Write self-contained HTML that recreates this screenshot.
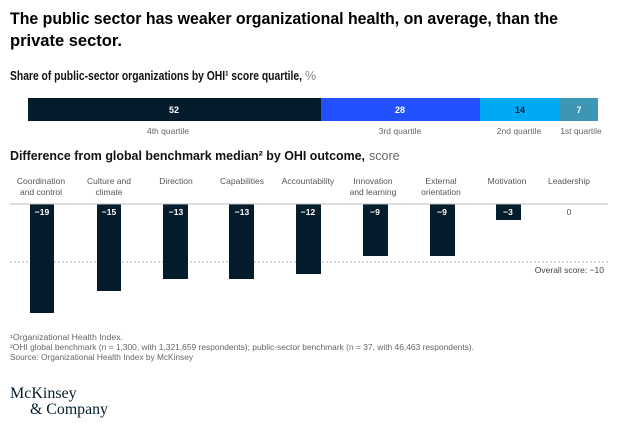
<!DOCTYPE html>
<html><head><meta charset="utf-8"><style>
html,body{margin:0;padding:0;background:#fff;}
svg{display:block;font-family:"Liberation Sans",sans-serif;}
</style></head><body>
<svg width="626" height="429" viewBox="0 0 626 429" xmlns="http://www.w3.org/2000/svg">
<g fill="#000" font-weight="bold" font-size="17">
<text x="10" y="24" textLength="548" lengthAdjust="spacingAndGlyphs">The public sector has weaker organizational health, on average, than the</text>
<text x="10" y="46" textLength="112" lengthAdjust="spacingAndGlyphs">private sector.</text>
</g>
<text x="10" y="80" font-size="12.5" font-weight="bold" fill="#111" textLength="292" lengthAdjust="spacingAndGlyphs">Share of public-sector organizations by OHI¹ score quartile,</text>
<text x="305" y="80" font-size="12.5" fill="#888">%</text>
<rect x="28" y="98" width="293" height="23" fill="#051c2c"/>
<rect x="321" y="98" width="159" height="23" fill="#2251ff"/>
<rect x="480" y="98" width="80" height="23" fill="#00a9f4"/>
<rect x="560" y="98" width="38" height="23" fill="#3c96b4"/>
<g font-size="9" font-weight="bold" text-anchor="middle">
<text x="174" y="113" fill="#fff">52</text>
<text x="400" y="113" fill="#fff">28</text>
<text x="520" y="113" fill="#051c2c">14</text>
<text x="579" y="113" fill="#fff">7</text>
</g>
<g font-size="8.5" fill="#666" text-anchor="middle">
<text x="168" y="134">4th quartile</text>
<text x="400" y="134">3rd quartile</text>
<text x="519" y="134">2nd quartile</text>
<text x="581" y="134">1st quartile</text>
</g>
<text x="10" y="160" font-size="12.5" font-weight="bold" fill="#111" textLength="355" lengthAdjust="spacingAndGlyphs">Difference from global benchmark median² by OHI outcome,</text>
<text x="369" y="160" font-size="12.5" fill="#666">score</text>
<g font-size="8.5" fill="#555" text-anchor="middle">
<text x="41" y="184">Coordination</text><text x="41" y="195">and control</text>
<text x="109" y="184">Culture and</text><text x="109" y="195">climate</text>
<text x="176" y="184">Direction</text>
<text x="242" y="184">Capabilities</text>
<text x="308" y="184">Accountability</text>
<text x="373" y="184">Innovation</text><text x="373" y="195">and learning</text>
<text x="441" y="184">External</text><text x="441" y="195">orientation</text>
<text x="507" y="184">Motivation</text>
<text x="569" y="184">Leadership</text>
</g>
<line x1="10" y1="262" x2="608" y2="262" stroke="#999" stroke-width="0.8" stroke-dasharray="2,2"/>
<g fill="#051c2c">
<rect x="30" y="204" width="24" height="109"/>
<rect x="97" y="204" width="24" height="87"/>
<rect x="163" y="204" width="25" height="75"/>
<rect x="229" y="204" width="25" height="75"/>
<rect x="296" y="204" width="25" height="70"/>
<rect x="363" y="204" width="25" height="52"/>
<rect x="430" y="204" width="25" height="52"/>
<rect x="496" y="204" width="25" height="16"/>
</g>
<line x1="10" y1="204" x2="608" y2="204" stroke="#bbb" stroke-width="1"/>
<g font-size="8.5" font-weight="bold" fill="#fff" text-anchor="middle">
<text x="42" y="215">−19</text>
<text x="109" y="215">−15</text>
<text x="176" y="215">−13</text>
<text x="242" y="215">−13</text>
<text x="308" y="215">−12</text>
<text x="375" y="215">−9</text>
<text x="442" y="215">−9</text>
<text x="508" y="215">−3</text>
</g>
<text x="569" y="215" font-size="8.5" fill="#555" text-anchor="middle">0</text>
<text x="604" y="273" font-size="8.5" fill="#444" text-anchor="end">Overall score: −10</text>
<g font-size="8" fill="#666">
<text x="10" y="340" textLength="113" lengthAdjust="spacingAndGlyphs">¹Organizational Health Index.</text>
<text x="10" y="350" textLength="464" lengthAdjust="spacingAndGlyphs">²OHI global benchmark (n = 1,300, with 1,321,659 respondents); public-sector benchmark (n = 37, with 46,463 respondents).</text>
<text x="10" y="360" textLength="183" lengthAdjust="spacingAndGlyphs">Source: Organizational Health Index by McKinsey</text>
</g>
<g font-family="Liberation Serif,serif" font-size="16" fill="#051c2c">
<text x="10" y="398">McKinsey</text>
<text x="30" y="414" textLength="78" lengthAdjust="spacingAndGlyphs">&amp; Company</text>
</g>
</svg>
</body></html>
